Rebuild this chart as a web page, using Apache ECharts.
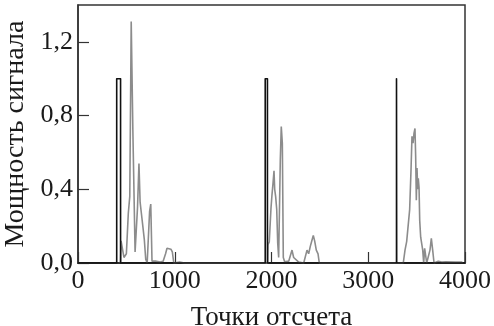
<!DOCTYPE html>
<html>
<head>
<meta charset="utf-8">
<script src="https://cdn.jsdelivr.net/npm/echarts@6/dist/echarts.min.js"></script>
<style>
  html, body { margin: 0; padding: 0; background: #fff; }
  #chart { width: 494px; height: 326px; }
</style>
</head>
<body>
<div id="chart"></div>
<script>
// опорные импульсы (чёрная линия)
const pulseX = [0, 400, 400, 440, 440, 1935, 1935, 1958, 1958, 3292, 3292, 3294, 3294, 4000];
const pulseY = [0, 0, 1, 1, 0, 0, 1, 1, 0, 0, 1, 1, 0, 0];

// мощность принятого сигнала (серая линия)
const signalX = [
  440, 445, 462, 475, 500, 520, 535, 550, 567, 590, 615, 630, 642, 655, 670, 685, 700, 715,
  740, 752, 765, 800, 850, 880, 905, 920, 940, 960, 975, 990, 1050, 1100,
  1962, 1964, 1977, 1995, 2005, 2012, 2026, 2033, 2043, 2054, 2064, 2074, 2091, 2101, 2112,
  2122, 2136, 2178, 2212, 2229, 2281, 2333, 2367, 2384, 2401, 2419, 2432, 2446, 2463, 2481, 2494,
  3362, 3380, 3397, 3414, 3428, 3442, 3452, 3463, 3473, 3483, 3490, 3497, 3504, 3511, 3517,
  3525, 3532, 3542, 3552, 3563, 3573, 3583, 3594, 3604, 3621, 3638, 3652, 3666, 3680, 3724,
  3759, 3800, 3900, 3966, 3975
];
const signalY = [
  0, 0.12, 0.11, 0.03, 0.05, 0.27, 0.36, 1.31, 0.72, 0.06, 0.30, 0.54, 0.33, 0.27, 0.20, 0.13, 0.02, 0.0,
  0.28, 0.32, 0.01, 0.01, 0.005, 0.01, 0.05, 0.08, 0.07, 0.075, 0.06, 0.0, 0.005, 0,
  0, 0.10, 0.115, 0.30, 0.37, 0.41, 0.50, 0.40, 0.36, 0.29, 0.11, 0.03, 0.56, 0.74, 0.65,
  0.03, 0.007, 0.01, 0.07, 0.03, 0.005, 0, 0.07, 0.05, 0.09, 0.125, 0.15, 0.12, 0.07, 0.05, 0,
  0, 0.07, 0.116, 0.107, 0.29, 0.505, 0.687, 0.65, 0.705, 0.73, 0.58, 0.34, 0.515, 0.40, 0.46,
  0.41, 0.23, 0.14, 0.15, 0.07, 0, 0.08, 0.08, 0, 0, 0.07, 0.134, 0.07, 0, 0.01,
  0.005, 0.006, 0.005, 0.005, 0
];

const yTicks = [0, 0.4, 0.8, 1.2];

function zip(xs, ys) {
  return xs.map((x, i) => [x, ys[i]]);
}

const chart = echarts.init(document.getElementById("chart"));
const font = "Liberation Serif";

chart.setOption({
  animation: false,
  backgroundColor: "#fff",
  grid: {
    left: 78,
    right: 29,
    top: 5,
    bottom: 63,
    outerBoundsMode: "none",
    containLabel: false,
    show: true,
    borderColor: "#333",
    borderWidth: 1.5,
  },
  xAxis: {
    type: "value",
    min: 0,
    max: 4000,
    interval: 1000,
    name: "Точки отсчета",
    nameLocation: "middle",
    nameGap: 41,
    nameTextStyle: { fontFamily: font, fontSize: 27, color: "#1a1a1a" },
    axisLine: { lineStyle: { color: "#333", width: 2 } },
    axisTick: { inside: true, length: 11, lineStyle: { color: "#333", width: 1.2 } },
    axisLabel: {
      fontFamily: font,
      fontSize: 26,
      color: "#1a1a1a",
      margin: 5,
      formatter: (v) => String(v),
    },
    splitLine: { show: false },
  },
  yAxis: {
    type: "value",
    min: 0,
    max: 1.4,
    interval: 0.4,
    name: "Мощность сигнала",
    nameLocation: "middle",
    nameGap: 43,
    nameTextStyle: { fontFamily: font, fontSize: 28, color: "#1a1a1a" },
    axisLine: { show: true, lineStyle: { color: "#333", width: 1.5 } },
    axisTick: { inside: true, length: 11, lineStyle: { color: "#333", width: 1.2 } },
    axisLabel: {
      fontFamily: font,
      fontSize: 26,
      color: "#1a1a1a",
      margin: 5,
      showMaxLabel: false,
      formatter: (v) => (yTicks.some((t) => Math.abs(t - v) < 1e-6) ? v.toFixed(1).replace(".", ",") : ""),
    },
    splitLine: { show: false },
  },
  series: [
    {
      name: "pulse",
      type: "line",
      data: zip(pulseX, pulseY),
      showSymbol: false,
      lineStyle: { color: "#111", width: 1.6, join: "round" },
      z: 3,
    },
    {
      name: "signal",
      type: "line",
      data: zip(signalX, signalY),
      showSymbol: false,
      lineStyle: { color: "#8c8c8c", width: 1.6 },
      z: 2,
    },
  ],
});
</script>
</body>
</html>
